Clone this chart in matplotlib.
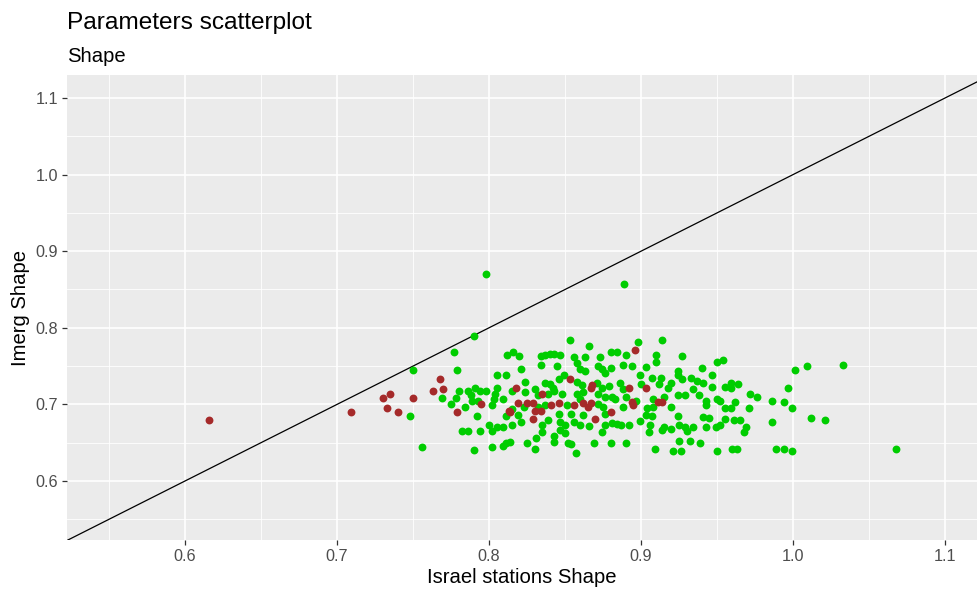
import matplotlib.pyplot as plt
from matplotlib.ticker import MultipleLocator

plt.rcParams['font.family'] = ['Liberation Sans', 'DejaVu Sans']

# Israel stations vs Imerg shape parameter, per station
green_x = [
    0.790, 0.777, 0.750, 0.779, 0.812, 0.769, 0.780, 0.778, 0.775, 0.748,
    0.784, 0.786, 0.791, 0.788, 0.789, 0.794, 0.798, 0.793, 0.805, 0.811,
    0.805, 0.804, 0.803, 0.809, 0.802, 0.792, 0.811, 0.782, 0.786, 0.794,
    0.800, 0.802, 0.805, 0.809, 0.811, 0.756, 0.790, 0.802, 0.809, 0.798,
    0.889,
    0.853, 0.866, 0.880, 0.816, 0.820, 0.834, 0.837, 0.840, 0.843, 0.847,
    0.834, 0.845, 0.821, 0.856, 0.863, 0.873, 0.858, 0.860, 0.863, 0.872,
    0.874, 0.876, 0.880, 0.849, 0.846, 0.824, 0.837, 0.840, 0.842, 0.858,
    0.861, 0.871, 0.874, 0.879, 0.815, 0.824, 0.830, 0.832, 0.839, 0.843,
    0.848, 0.858, 0.862, 0.872, 0.876, 0.881, 0.815, 0.823, 0.832, 0.837,
    0.851, 0.860, 0.872, 0.875, 0.819, 0.846, 0.854, 0.862, 0.876, 0.815,
    0.821, 0.835, 0.839, 0.847, 0.850, 0.856, 0.860, 0.866, 0.876, 0.881,
    0.835, 0.843, 0.847, 0.850, 0.874, 0.814, 0.825, 0.831, 0.843, 0.852,
    0.854, 0.869, 0.880, 0.830, 0.857,
    0.898, 0.914, 0.884, 0.890, 0.910, 0.927, 0.888, 0.894, 0.903, 0.910,
    0.924, 0.940, 0.950, 0.899, 0.907, 0.913, 0.924, 0.927, 0.933, 0.937,
    0.947, 0.886, 0.900, 0.912, 0.920, 0.941, 0.947, 0.888, 0.918, 0.934,
    0.938, 0.883, 0.890, 0.897, 0.908, 0.915, 0.924, 0.929, 0.943, 0.950,
    0.888, 0.904, 0.908, 0.920, 0.943, 0.903, 0.907, 0.924, 0.941, 0.945,
    0.884, 0.887, 0.892, 0.899, 0.906, 0.915, 0.920, 0.925, 0.929, 0.934,
    0.943, 0.949, 0.905, 0.914, 0.930, 0.890, 0.925, 0.932, 0.939, 0.909,
    0.921, 0.926, 0.950,
    0.954, 1.001, 1.009, 0.955, 0.959, 0.959, 0.964, 0.997, 0.972, 0.976,
    0.952, 0.986, 0.994, 0.999, 0.955, 0.959, 0.962, 0.971, 0.955, 0.961,
    0.965, 0.952, 0.986, 1.012, 1.021, 0.969, 0.968, 0.960, 0.963, 0.989,
    0.994, 0.999, 1.033, 1.068,
]
green_y = [
    0.789, 0.769, 0.745, 0.745, 0.765, 0.708, 0.717, 0.708, 0.701, 0.685,
    0.697, 0.718, 0.721, 0.712, 0.705, 0.718, 0.718, 0.705, 0.738, 0.738,
    0.721, 0.714, 0.707, 0.707, 0.699, 0.685, 0.685, 0.665, 0.665, 0.665,
    0.673, 0.665, 0.670, 0.670, 0.650, 0.644, 0.641, 0.644, 0.646, 0.870,
    0.857,
    0.784, 0.776, 0.769, 0.769, 0.763, 0.763, 0.765, 0.766, 0.766, 0.765,
    0.752, 0.750, 0.746, 0.762, 0.762, 0.762, 0.754, 0.746, 0.743, 0.750,
    0.746, 0.741, 0.747, 0.738, 0.733, 0.729, 0.728, 0.726, 0.721, 0.729,
    0.725, 0.728, 0.721, 0.724, 0.717, 0.716, 0.720, 0.712, 0.714, 0.717,
    0.714, 0.714, 0.716, 0.714, 0.710, 0.710, 0.694, 0.697, 0.697, 0.699,
    0.699, 0.707, 0.701, 0.697, 0.686, 0.688, 0.687, 0.686, 0.687, 0.673,
    0.677, 0.673, 0.679, 0.677, 0.673, 0.677, 0.673, 0.672, 0.673, 0.676,
    0.664, 0.659, 0.667, 0.663, 0.664, 0.651, 0.650, 0.656, 0.651, 0.650,
    0.648, 0.650, 0.650, 0.642, 0.636,
    0.782, 0.784, 0.768, 0.765, 0.765, 0.763, 0.752, 0.750, 0.749, 0.756,
    0.744, 0.747, 0.755, 0.738, 0.734, 0.734, 0.739, 0.733, 0.734, 0.731,
    0.738, 0.728, 0.727, 0.726, 0.728, 0.728, 0.723, 0.720, 0.721, 0.720,
    0.712, 0.707, 0.710, 0.705, 0.707, 0.710, 0.712, 0.712, 0.705, 0.707,
    0.697, 0.695, 0.697, 0.697, 0.699, 0.686, 0.685, 0.685, 0.683, 0.682,
    0.675, 0.673, 0.673, 0.678, 0.673, 0.670, 0.668, 0.673, 0.670, 0.670,
    0.670, 0.670, 0.664, 0.667, 0.665, 0.650, 0.652, 0.652, 0.649, 0.642,
    0.639, 0.639, 0.639,
    0.758, 0.745, 0.750, 0.723, 0.728, 0.721, 0.727, 0.721, 0.713, 0.710,
    0.705, 0.705, 0.703, 0.695, 0.695, 0.695, 0.703, 0.695, 0.681, 0.679,
    0.680, 0.673, 0.677, 0.682, 0.680, 0.670, 0.664, 0.642, 0.642, 0.642,
    0.642, 0.639, 0.752, 0.642,
]

red_x = [
    0.616, 0.709, 0.730, 0.735, 0.733, 0.740, 0.750, 0.768, 0.763, 0.770,
    0.779, 0.795, 0.813, 0.853, 0.868, 0.867, 0.818, 0.835, 0.819, 0.825,
    0.829, 0.841, 0.846, 0.856, 0.862, 0.865, 0.867, 0.814, 0.830, 0.834,
    0.829, 0.870, 0.880, 0.896, 0.892, 0.903, 0.894, 0.895, 0.911, 0.914,
]
red_y = [
    0.679, 0.690, 0.708, 0.713, 0.695, 0.690, 0.709, 0.733, 0.718, 0.720,
    0.690, 0.700, 0.691, 0.733, 0.725, 0.721, 0.722, 0.714, 0.702, 0.702,
    0.702, 0.699, 0.702, 0.699, 0.702, 0.697, 0.702, 0.690, 0.691, 0.692,
    0.681, 0.681, 0.690, 0.771, 0.721, 0.721, 0.703, 0.699, 0.703, 0.703,
]

fig = plt.figure(figsize=(9.77, 5.94), dpi=100)
ax = fig.add_axes([67 / 977, 54 / 594, 910 / 977, 465 / 594])
ax.set_facecolor('#EBEBEB')
for s in ax.spines.values():
    s.set_visible(False)

ax.set_xlim(0.5224, 1.121)
ax.set_ylim(0.523, 1.130)
ax.xaxis.set_major_locator(MultipleLocator(0.1))
ax.yaxis.set_major_locator(MultipleLocator(0.1))
ax.xaxis.set_minor_locator(MultipleLocator(0.05))
ax.yaxis.set_minor_locator(MultipleLocator(0.05))
ax.grid(which='major', color='white', linewidth=1.2)
ax.grid(which='minor', color='white', linewidth=0.6)
ax.set_axisbelow(True)
ax.tick_params(which='major', length=3.5, width=0.9, color='#333333',
               labelsize=11.7, labelcolor='#4D4D4D', pad=3)
ax.tick_params(which='minor', length=0)
ax.xaxis.set_major_formatter(lambda v, p: f'{v:.1f}')
ax.yaxis.set_major_formatter(lambda v, p: f'{v:.1f}')

# 1:1 reference line
ax.axline((0.6, 0.6), slope=1, color='black', linewidth=0.9, zorder=2)

ax.scatter(green_x, green_y, s=32, color='#00CD00', linewidths=0, zorder=3)
ax.scatter(red_x, red_y, s=32, color='#A52A2A', linewidths=0, zorder=4)

ax.set_xlabel('Israel stations Shape', fontsize=14.6, labelpad=3)
ax.set_ylabel('Imerg Shape', fontsize=14.6, labelpad=4)

fig.text(67 / 977, 1 - 29 / 594, 'Parameters scatterplot', fontsize=17.6,
         va='baseline', ha='left')
fig.text(67 / 977, 1 - 62 / 594, 'Shape', fontsize=14.6,
         va='baseline', ha='left')

fig.savefig('out.png', dpi=100)
